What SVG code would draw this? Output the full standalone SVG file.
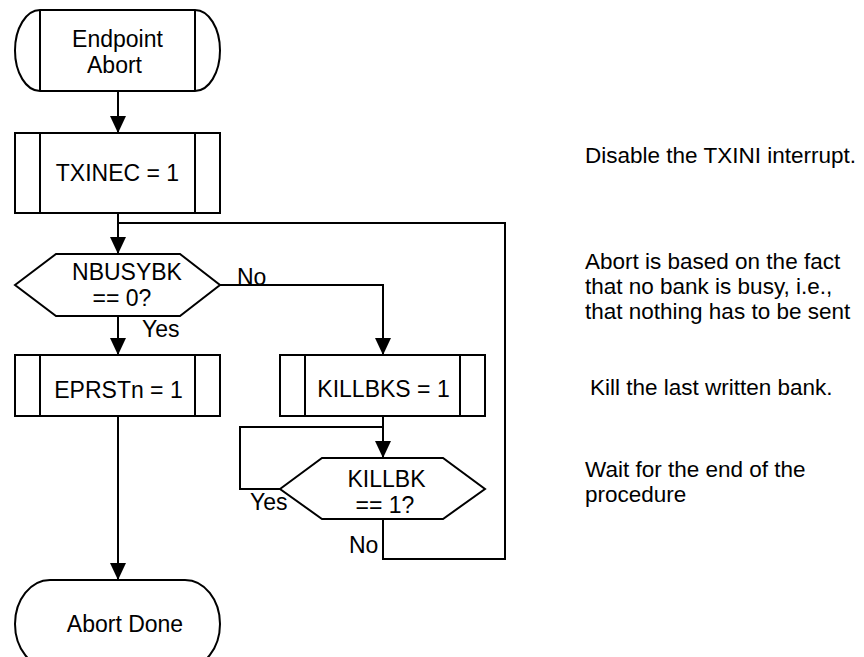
<svg xmlns="http://www.w3.org/2000/svg" width="864" height="657" viewBox="0 0 864 657">
<style>
  .shape { fill: #ffffff; stroke: #000000; stroke-width: 2; }
  .inner { fill: none; stroke: #000000; stroke-width: 2; }
  .conn { fill: none; stroke: #000000; stroke-width: 2; }
  text { font-family: "Liberation Sans", Arial, sans-serif; font-size: 23px; fill: #000000; }
  .c { text-anchor: middle; }
  .note { font-size: 22.5px; }
</style>
<defs>
  <marker id="arrow" markerUnits="userSpaceOnUse" markerWidth="18" markerHeight="18" viewBox="0 0 18 18" refX="17" refY="8" orient="auto">
    <path d="M0,0 L17,8 L0,16 Z" fill="#000000"/>
  </marker>
</defs>
<rect width="864" height="657" fill="#ffffff"/>

<g id="connectors">
  <path class="conn" d="M118,91 V133" marker-end="url(#arrow)"/>
  <path class="conn" d="M118,213 V254" marker-end="url(#arrow)"/>
  <path class="conn" d="M383,519 V559 H505 V223 H118"/>
  <path class="conn" d="M220,285 H383 V355" marker-end="url(#arrow)"/>
  <path class="conn" d="M118,316 V355" marker-end="url(#arrow)"/>
  <path class="conn" d="M383,416 V458" marker-end="url(#arrow)"/>
  <path class="conn" d="M280,489 H240 V427 H383"/>
  <path class="conn" d="M118,416 V580" marker-end="url(#arrow)"/>
  <text x="237" y="285">No</text>
  <text x="142" y="337">Yes</text>
  <text x="250" y="510">Yes</text>
  <text x="349" y="553">No</text>
</g>

<g id="node-endpoint-abort">
  <path class="shape" d="M40,10 H195 A25,40.5 0 0 1 195,91 H40 A25,40.5 0 0 1 40,10 Z"/>
  <path class="inner" d="M40,10 V91 M195,10 V91"/>
  <text class="c" x="117.5" y="47">Endpoint</text>
  <text class="c" x="114.5" y="73">Abort</text>
</g>

<g id="node-txinec">
  <rect class="shape" x="15" y="133" width="205" height="80"/>
  <path class="inner" d="M40,133 V213 M195,133 V213"/>
  <text class="c" x="117.5" y="181">TXINEC = 1</text>
</g>

<g id="node-nbusybk">
  <polygon class="shape" points="15,285 56,254 180,254 220,285 180,316 56,316"/>
  <text class="c" x="127" y="280">NBUSYBK</text>
  <text class="c" x="122" y="306">== 0?</text>
</g>

<g id="node-eprstn">
  <rect class="shape" x="15" y="355" width="205" height="61"/>
  <path class="inner" d="M40,355 V416 M195,355 V416"/>
  <text class="c" x="118.5" y="398">EPRSTn = 1</text>
</g>

<g id="node-killbks">
  <rect class="shape" x="280" y="355" width="205" height="61"/>
  <path class="inner" d="M305,355 V416 M460,355 V416"/>
  <text class="c" x="383.5" y="397">KILLBKS = 1</text>
</g>

<g id="node-killbk">
  <polygon class="shape" points="280,489 322,458 443,458 485,489 443,519 322,519"/>
  <text class="c" x="386.5" y="487">KILLBK</text>
  <text class="c" x="385" y="513">== 1?</text>
</g>

<g id="node-abort-done">
  <path class="shape" d="M50,580 H185 A35,44 0 0 1 185,668 H50 A35,44 0 0 1 50,580 Z"/>
  <text class="c" x="125" y="632">Abort Done</text>
</g>

<g id="notes">
  <text class="note" x="585" y="163">Disable the TXINI interrupt.</text>
  <text class="note" x="585" y="269">Abort is based on the fact</text>
  <text class="note" x="585" y="294.2">that no bank is busy, i.e.,</text>
  <text class="note" x="585" y="319.4">that nothing has to be sent</text>
  <text class="note" x="590" y="395">Kill the last written bank.</text>
  <text class="note" x="585" y="477">Wait for the end of the</text>
  <text class="note" x="585" y="502.2">procedure</text>
</g>
</svg>
